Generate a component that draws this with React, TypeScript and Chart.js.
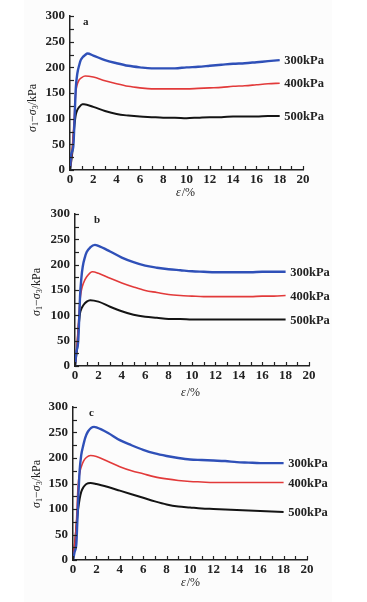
import React, { useEffect, useRef } from "react";
import { Chart, registerables } from "chart.js";

Chart.register(...registerables);

// ---------- data ----------
const panelLetters = ["a", "b", "c"];
const pressureLabels = ["300kPa", "400kPa", "500kPa"];
const xAxisTitle = "ε/%";
const xTickStep = 2;
const yTickStep = 50;
const xMinorStep = 1;
const yMinorStep = 25;

// panel a
const aStrain300 = [0, 0.1, 0.28, 0.36, 0.43, 0.5, 0.63, 0.8, 0.92, 1.1, 1.3, 1.5, 2, 3, 4, 5, 6, 7, 8, 9, 10, 11, 12, 13, 14, 15, 16, 17, 18];
const aStress300 = [0, 30, 45, 80, 123, 160, 188, 205, 214, 220, 224, 227, 223, 214, 208, 203, 200, 198, 198, 198, 200, 201, 203, 205, 207, 208, 210, 212, 214];
const aStrain400 = [0, 0.15, 0.34, 0.42, 0.49, 0.6, 0.77, 1.0, 1.3, 2, 3, 4, 5, 6, 7, 8, 9, 10, 11, 12, 13, 14, 15, 16, 17, 18];
const aStress400 = [0, 30, 91, 125, 150, 165, 175, 180, 183, 181, 174, 168, 163, 160, 158, 158, 158, 158, 159, 160, 161, 163, 164, 166, 168, 169];
const aStrain500 = [0, 0.2, 0.35, 0.43, 0.5, 0.63, 0.8, 1.06, 1.2, 2, 3, 4, 5, 6, 7, 8, 9, 10, 11, 12, 13, 14, 15, 16, 17, 18];
const aStress500 = [0, 35, 80, 97, 108, 117, 123, 128, 128, 123, 115, 109, 106, 104, 103, 102, 102, 101, 102, 103, 103, 104, 104, 104, 105, 105];

// panel b
const bStrain300 = [0, 0.1, 0.28, 0.36, 0.43, 0.55, 0.66, 0.85, 1.0, 1.3, 1.7, 2, 3, 4, 5, 6, 7, 8, 9, 10, 11, 12, 13, 14, 15, 16, 17, 18];
const bStress300 = [0, 25, 51, 95, 137, 175, 196, 215, 225, 234, 239, 237, 226, 214, 205, 198, 194, 191, 189, 187, 186, 185, 185, 185, 185, 186, 186, 186];
const bStrain400 = [0, 0.15, 0.28, 0.43, 0.55, 0.71, 1.0, 1.5, 2, 3, 4, 5, 6, 7, 8, 9, 10, 11, 12, 13, 14, 15, 16, 17, 18];
const bStress400 = [0, 35, 78, 130, 150, 163, 176, 186, 183, 173, 164, 156, 149, 145, 141, 139, 138, 137, 137, 137, 137, 137, 138, 138, 139];
const bStrain500 = [0, 0.2, 0.3, 0.43, 0.55, 0.71, 1.0, 1.3, 2, 3, 4, 5, 6, 7, 8, 9, 10, 11, 12, 13, 14, 15, 16, 17, 18];
const bStress500 = [0, 40, 75, 104, 113, 120, 127, 130, 127, 117, 108, 101, 97, 95, 93, 93, 92, 92, 92, 92, 92, 92, 92, 92, 92];

// panel c
const cStrain300 = [0, 0.14, 0.29, 0.36, 0.43, 0.57, 0.7, 0.85, 1.05, 1.28, 1.8, 2, 3, 4, 5, 6, 7, 8, 9, 10, 11, 12, 13, 14, 15, 16, 17, 18];
const cStress300 = [0, 16, 33, 70, 111, 176, 205, 222, 240, 252, 261, 260, 249, 235, 225, 216, 209, 204, 200, 197, 196, 195, 194, 192, 191, 190, 190, 190];
const cStrain400 = [0, 0.14, 0.29, 0.43, 0.57, 0.71, 0.9, 1.14, 1.5, 2, 3, 4, 5, 6, 7, 8, 9, 10, 11, 12, 13, 14, 15, 16, 17, 18];
const cStress400 = [0, 30, 72, 144, 170, 183, 194, 201, 205, 203, 193, 183, 175, 169, 163, 159, 156, 154, 153, 152, 152, 152, 152, 152, 152, 152];
const cStrain500 = [0, 0.2, 0.32, 0.43, 0.57, 0.71, 0.9, 1.14, 1.5, 2, 3, 4, 5, 6, 7, 8, 9, 10, 11, 12, 13, 14, 15, 16, 17, 18];
const cStress500 = [0, 40, 75, 98, 120, 134, 143, 149, 151, 149, 143, 136, 129, 122, 115, 109, 105, 103, 101, 100, 99, 98, 97, 96, 95, 94];

const panelStrains = [
  [aStrain300, aStrain400, aStrain500],
  [bStrain300, bStrain400, bStrain500],
  [cStrain300, cStrain400, cStrain500],
];
const panelStresses = [
  [aStress300, aStress400, aStress500],
  [bStress300, bStress400, bStress500],
  [cStress300, cStress400, cStress500],
];

// ---------- styles / layout ----------
const seriesColors = ["#2f50b8", "#e23a3a", "#141414"];
const seriesWidths = [2.4, 1.6, 2];
const FONT = "'Liberation Serif', 'DejaVu Serif', serif";

type Layout = {
  canvasTop: number;
  canvasHeight: number;
  left: number;
  right: number;
  top: number;
  bottom: number;
  yTitleX: number;
  yTitleY: number;
  xTitleX: number;
  xTitleY: number;
  letterDx: number;
};

const layouts: Layout[] = [
  { canvasTop: 0, canvasHeight: 200, left: 70, right: 303, top: 16, bottom: 170, yTitleX: 33, yTitleY: 107, xTitleX: 185, xTitleY: 193, letterDx: 13 },
  { canvasTop: 200, canvasHeight: 200, left: 75, right: 309, top: 214, bottom: 366, yTitleX: 37, yTitleY: 291, xTitleX: 190, xTitleY: 393, letterDx: 19 },
  { canvasTop: 392, canvasHeight: 210, left: 73, right: 307, top: 407, bottom: 560, yTitleX: 37, yTitleY: 483, xTitleX: 190, xTitleY: 583, letterDx: 16 },
];

function drawYTitle(ctx: CanvasRenderingContext2D, cx: number, cy: number) {
  const size = 12;
  const parts: { t: string; font: string; dy: number }[] = [
    { t: "σ", font: `italic ${size}px ${FONT}`, dy: 0 },
    { t: "1", font: `${size - 4}px ${FONT}`, dy: 3 },
    { t: "−", font: `${size}px ${FONT}`, dy: 0 },
    { t: "σ", font: `italic ${size}px ${FONT}`, dy: 0 },
    { t: "3", font: `${size - 4}px ${FONT}`, dy: 3 },
    { t: "/kPa", font: `${size}px ${FONT}`, dy: 0 },
  ];
  let total = 0;
  const widths = parts.map((p) => {
    ctx.font = p.font;
    const w = ctx.measureText(p.t).width + (p.t === "/kPa" ? 2 : 0);
    total += w;
    return w;
  });
  ctx.save();
  ctx.translate(cx, cy);
  ctx.rotate(-Math.PI / 2);
  ctx.fillStyle = "#222";
  ctx.textBaseline = "middle";
  ctx.textAlign = "left";
  let x = -total / 2;
  parts.forEach((p, i) => {
    ctx.font = p.font;
    ctx.fillText(p.t, x, p.dy);
    x += widths[i];
  });
  ctx.restore();
}

function makeDecor(idx: number) {
  const L = layouts[idx];
  return {
    id: "decor" + idx,
    afterDraw(chart: any) {
      const { ctx, chartArea, scales } = chart;
      const xs = scales.x;
      const ys = scales.y;
      ctx.save();
      ctx.strokeStyle = "#222";
      ctx.lineWidth = 1.2;
      for (let v = 0; v <= ys.max; v += yMinorStep) {
        const py = Math.round(ys.getPixelForValue(v)) + 0.5;
        ctx.beginPath();
        ctx.moveTo(chartArea.left, py);
        ctx.lineTo(chartArea.left + 4, py);
        ctx.stroke();
      }
      for (let v = 0; v <= xs.max; v += xMinorStep) {
        const px = Math.round(xs.getPixelForValue(v)) + 0.5;
        ctx.beginPath();
        ctx.moveTo(px, chartArea.bottom);
        ctx.lineTo(px, chartArea.bottom - 4);
        ctx.stroke();
      }
      // panel letter
      ctx.fillStyle = "#222";
      ctx.font = `bold 11px ${FONT}`;
      ctx.textAlign = "left";
      ctx.textBaseline = "middle";
      ctx.fillText(panelLetters[idx], chartArea.left + L.letterDx, chartArea.top + 6);
      // pressure labels
      ctx.font = `bold 12.5px ${FONT}`;
      pressureLabels.forEach((lab, s) => {
        const ys_ = panelStresses[idx][s];
        const last = ys_[ys_.length - 1];
        const px = xs.getPixelForValue(18.4);
        const py = ys.getPixelForValue(last);
        ctx.fillText(lab, px, py + 1);
      });
      // x title
      ctx.textAlign = "center";
      ctx.font = `italic 12px ${FONT}`;
      const epsW = ctx.measureText("ε").width;
      ctx.font = `12px ${FONT}`;
      const restW = ctx.measureText("/%").width;
      const xt = L.xTitleX - (epsW + restW) / 2;
      const yt = L.xTitleY - L.canvasTop;
      ctx.textAlign = "left";
      ctx.font = `italic 12px ${FONT}`;
      ctx.fillText(xAxisTitle.slice(0, 1), xt, yt);
      ctx.font = `12px ${FONT}`;
      ctx.fillText(xAxisTitle.slice(1), xt + epsW + 1, yt);
      drawYTitle(ctx, L.yTitleX, L.yTitleY - L.canvasTop);
      ctx.restore();
    },
  };
}

function Panel({ idx }: { idx: number }) {
  const ref = useRef<HTMLCanvasElement | null>(null);
  const L = layouts[idx];
  useEffect(() => {
    if (!ref.current) return;
    const datasets = pressureLabels.map((lab, s) => ({
      label: lab,
      data: panelStrains[idx][s].map((x, i) => ({ x, y: panelStresses[idx][s][i] })),
      borderColor: seriesColors[s],
      borderWidth: seriesWidths[s],
      pointRadius: 0,
      fill: false,
      cubicInterpolationMode: "monotone" as const,
    }));
    const chart = new Chart(ref.current, {
      type: "line",
      data: { datasets },
      options: {
        animation: false,
        responsive: false,
        layout: {
          padding: { left: 0, top: L.top - L.canvasTop, right: 367 - L.right, bottom: 0 },
        },
        plugins: { legend: { display: false }, tooltip: { enabled: false } },
        scales: {
          x: {
            type: "linear",
            min: 0,
            max: 20,
            afterFit: (s: any) => {
              s.height = L.canvasHeight - (L.bottom - L.canvasTop);
            },
            grid: { display: false, drawTicks: false },
            border: { display: true, color: "#222", width: 1.5 },
            ticks: {
              stepSize: xTickStep,
              padding: 3,
              color: "#222",
              font: { family: FONT, size: 13, weight: "bold", lineHeight: 1 },
              maxRotation: 0,
            },
          },
          y: {
            type: "linear",
            min: 0,
            max: 300,
            afterFit: (s: any) => {
              s.width = L.left;
            },
            grid: { display: false, drawTicks: false },
            border: { display: true, color: "#222", width: 1.5 },
            ticks: {
              stepSize: yTickStep,
              padding: 5,
              color: "#222",
              font: { family: FONT, size: 13, weight: "bold", lineHeight: 1 },
            },
          },
        },
      },
      plugins: [makeDecor(idx)],
    });
    return () => chart.destroy();
  }, [idx]);
  return (
    <canvas
      ref={ref}
      width={367}
      height={L.canvasHeight}
      style={{ position: "absolute", left: 0, top: L.canvasTop, width: 367, height: L.canvasHeight }}
    />
  );
}

export default function App() {
  return (
    <div style={{ position: "fixed", left: 0, top: 0, width: 367, height: 602, background: "#ffffff" }}>
      <div style={{ position: "absolute", left: 24, top: 0, width: 308, height: 602, background: "#fcfcfc" }} />
      {layouts.map((_, i) => (
        <Panel key={i} idx={i} />
      ))}
    </div>
  );
}
